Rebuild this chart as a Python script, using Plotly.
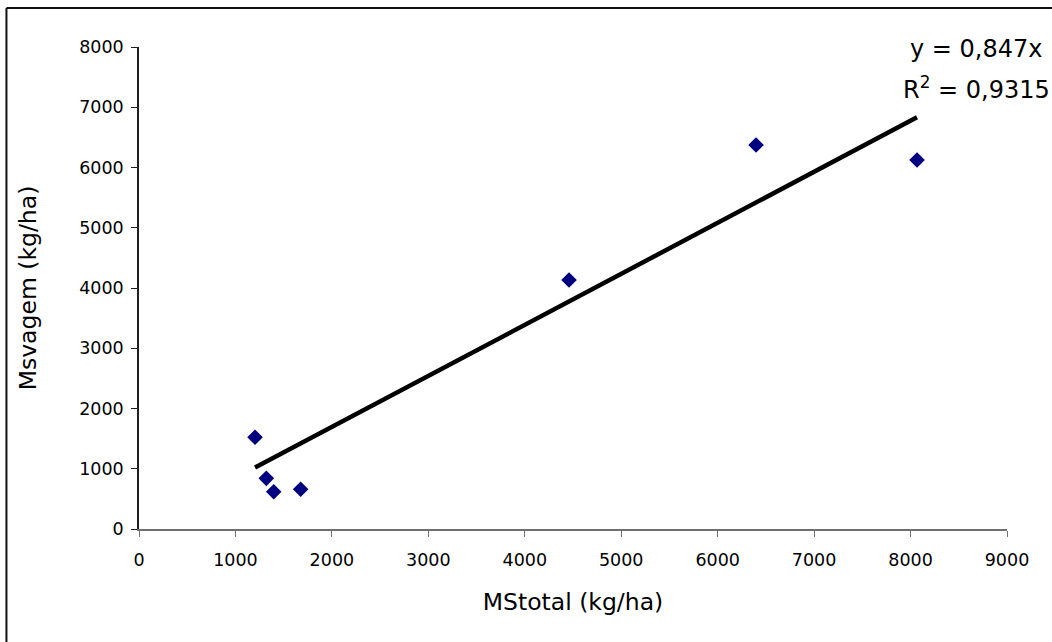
import plotly.graph_objects as go

# Dry matter of pods vs total dry matter (kg/ha)
ms_total = [1203, 1320, 1397, 1676, 4459, 6398, 8067]
ms_vagem = [1522, 841, 619, 659, 4133, 6373, 6124]

# Linear trend through the origin
slope = 0.847
r_squared = 0.9315
trend_x = [min(ms_total), max(ms_total)]
trend_y = [slope * v for v in trend_x]

x_ticks = list(range(0, 9001, 1000))
y_ticks = list(range(0, 8001, 1000))

FONT = "DejaVu Sans"

fig = go.Figure()
fig.add_trace(go.Scatter(
    x=ms_total, y=ms_vagem, mode="markers",
    marker=dict(symbol="diamond", size=12, color="#000080", line=dict(width=0)),
    showlegend=False,
))
fig.add_trace(go.Scatter(
    x=trend_x, y=trend_y, mode="lines",
    line=dict(color="black", width=4.5),
    showlegend=False,
))

# Equation labels, centred over each other
eq_x = 0.9643
fig.add_annotation(
    text="y = 0,847x", xref="paper", yref="paper", x=eq_x, y=0.9959,
    xanchor="center", yanchor="middle", showarrow=False,
    font=dict(family=FONT, size=24, color="black"),
)
fig.add_annotation(
    text=f"R<sup>2</sup> = {str(r_squared).replace('.', ',')}",
    xref="paper", yref="paper", x=eq_x, y=0.9149,
    xanchor="center", yanchor="middle", showarrow=False,
    font=dict(family=FONT, size=24, color="black"),
)

# Outer frame (top and left edges)
frame = dict(color="#111111", width=2)
fig.add_shape(type="line", xref="paper", yref="paper",
              x0=-0.1527, x1=1.06, y0=1.0809, y1=1.0809, line=frame)
fig.add_shape(type="line", xref="paper", yref="paper",
              x0=-0.1527, x1=-0.1527, y0=1.0809, y1=-0.25, line=frame)

axis_common = dict(
    showgrid=False, zeroline=False, showline=True,
    ticks="outside", ticklen=6, tickwidth=1,
    tickfont=dict(family=FONT, size=17.5, color="black"),
)

fig.update_xaxes(
    range=[0, 9000], tickvals=x_ticks, ticktext=[str(v) for v in x_ticks],
    linecolor="#707070", tickcolor="#707070", linewidth=1.5,
    ticklabelstandoff=8,
    title=dict(text="MStotal (kg/ha)", font=dict(family=FONT, size=23.5, color="black"), standoff=25),
    **axis_common,
)
fig.update_yaxes(
    range=[0, 8000], tickvals=y_ticks, ticktext=[str(v) for v in y_ticks],
    linecolor="#202020", tickcolor="#202020", linewidth=1.5,
    ticklabelstandoff=4,
    title=dict(text="Msvagem (kg/ha)", font=dict(family=FONT, size=23.5, color="black"), standoff=36),
    **axis_common,
)

fig.update_layout(
    width=1052, height=642,
    margin=dict(l=139, r=45, t=47, b=113, autoexpand=False),
    plot_bgcolor="white", paper_bgcolor="white",
    font=dict(family=FONT, color="black"),
)

fig.write_html("out.html")
